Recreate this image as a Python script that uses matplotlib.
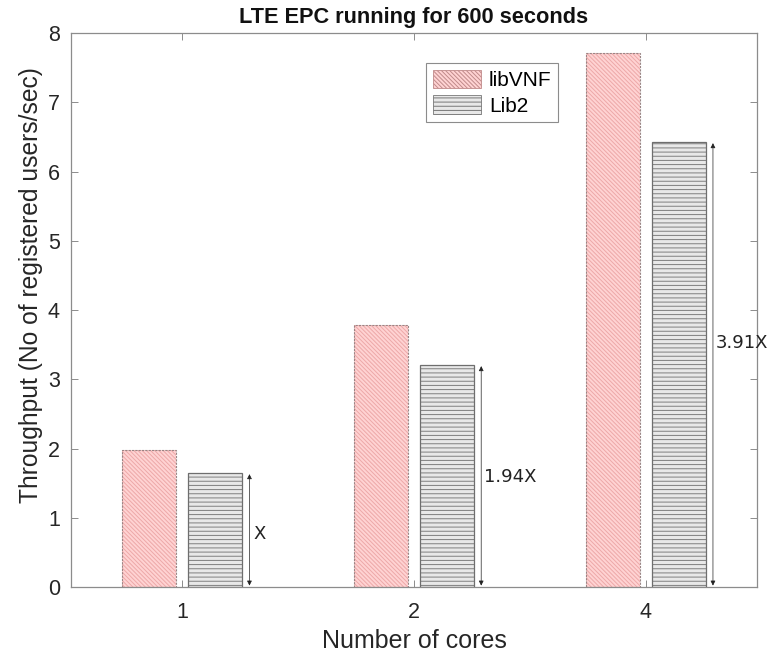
import numpy as np
import matplotlib
matplotlib.use('Agg')
import matplotlib.pyplot as plt
from matplotlib.patches import Patch

plt.rcParams['font.family'] = ['Liberation Sans', 'DejaVu Sans']
plt.rcParams['hatch.linewidth'] = 0.7

cores = ['1', '2', '4']
libvnf = [1.98, 3.79, 7.71]
lib2 = [1.65, 3.21, 6.43]
speedup_labels = ['X', '1.94X', '3.91X']

x = np.arange(1, len(cores) + 1)
width = 0.233
off = 0.143

fig = plt.figure(figsize=(7.76, 6.55), dpi=100)
ax = fig.add_axes([0.0915, 0.1038, 0.884, 0.8458])

# fill + hatch, then outline on top
ax.bar(x - off, libvnf, width, color='#ffd3d3', hatch='\\' * 8,
       edgecolor='#eda8a8', linewidth=0, zorder=2)
ax.bar(x - off, libvnf, width, fill=False, edgecolor='#9a8585',
       linewidth=0.8, linestyle=(0, (2, 1)), zorder=3)
ax.bar(x + off, lib2, width, color='#e8e8e8', hatch='----',
       edgecolor='#7e7e7e', linewidth=0, zorder=2)
ax.bar(x + off, lib2, width, fill=False, edgecolor='#6e6e6e',
       linewidth=0.9, zorder=3)

# speed-up arrows next to the Lib2 bars
for xi, v in zip(x, lib2):
    ax.annotate('', xy=(xi + 0.29, v), xytext=(xi + 0.29, 0),
                arrowprops=dict(arrowstyle='<|-|>', color='#222222',
                                lw=0.5, mutation_scale=7,
                                shrinkA=1, shrinkB=1), zorder=4)

label_pos = [(0.333, 0.77), (0.415, 1.59), (0.415, 3.52)]
for xi, lab, (dx, y) in zip(x, speedup_labels, label_pos):
    ax.text(xi + dx, y, lab, family='DejaVu Sans', fontsize=13,
            color='#222222', ha='center', va='center', zorder=5,
            clip_on=False)

ax.set_xlim(0.52, 3.48)
ax.set_ylim(0, 8)
ax.set_xticks(x)
ax.set_xticklabels(cores)
ax.set_yticks(range(0, 9))

for s in ax.spines.values():
    s.set_color('#8c8c8c')
    s.set_linewidth(0.9)
ax.tick_params(direction='in', length=5, width=0.7, color='#8c8c8c',
               labelcolor='#262626', labelsize=15.5, top=True, right=True)
ax.tick_params(axis='y', pad=8)
ax.tick_params(axis='x', pad=11)

ax.set_xlabel('Number of cores', fontsize=18, color='#262626', labelpad=4)
ax.set_ylabel('Throughput (No of registered users/sec)', fontsize=17.7,
              color='#262626')
ax.yaxis.set_label_coords(-0.041, 0.545)
ax.set_title('LTE EPC running for 600 seconds', fontsize=15.7,
             fontweight='bold', color='#111111', pad=7)

handles = [Patch(facecolor='#ffd3d3', edgecolor='#c08a8a', hatch='\\' * 8,
                 linewidth=0.6),
           Patch(facecolor='#e8e8e8', edgecolor='#777777', hatch='----',
                 linewidth=0.6)]
leg = ax.legend(handles, ['libVNF', 'Lib2'], loc='upper left',
                bbox_to_anchor=(0.518, 0.945), fontsize=15, frameon=True,
                fancybox=False, edgecolor='#8c8c8c', framealpha=1,
                handlelength=2.3, handleheight=1.0, borderpad=0.3,
                labelspacing=0.25, handletextpad=0.4, borderaxespad=0)
leg.get_frame().set_linewidth(0.8)

fig.savefig('out.png', dpi=100)
